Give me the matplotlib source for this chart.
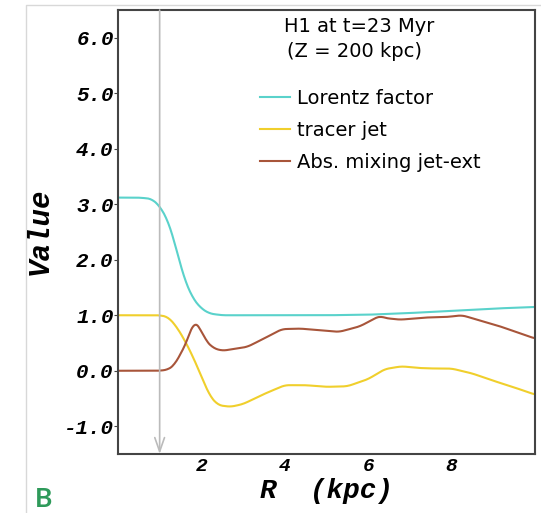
import numpy as np
import matplotlib.pyplot as plt
from matplotlib.lines import Line2D

# radial profiles at Z = 200 kpc
r_lorentz = [0, 0.5, 0.8, 1.0, 1.2, 1.32, 1.45, 1.6, 1.8, 2.0, 2.2, 2.5, 3, 4, 5, 6, 7, 8, 9, 10]
lorentz = [3.12, 3.12, 3.10, 2.97, 2.7, 2.41, 2.05, 1.64, 1.3, 1.12, 1.03, 1.0, 1.0, 1.0, 1.0, 1.01, 1.04, 1.08, 1.12, 1.15]

r_tracer = [0, 1.0, 1.2, 1.4, 1.6, 1.8, 2.0, 2.2, 2.4, 2.7, 3.0, 3.5, 4.0, 4.5, 5.0, 5.5, 6.0, 6.4,
            6.8, 7.2, 7.6, 8.0, 8.5, 9.0, 9.5, 10]
tracer = [1, 1, 0.97, 0.8, 0.55, 0.25, -0.1, -0.45, -0.62, -0.65, -0.6, -0.42, -0.26, -0.26, -0.29,
          -0.28, -0.15, 0.03, 0.08, 0.05, 0.04, 0.04, -0.05, -0.18, -0.3, -0.43]

r_mix = [0, 1.0, 1.2, 1.35, 1.5, 1.65, 1.82, 1.97, 2.1, 2.28, 2.5, 3.1, 3.5, 3.93, 4.37, 5.3, 5.8,
         6.28, 6.4, 6.76, 7.4, 7.9, 8.25, 9.16, 10]
mix = [0, 0, 0.02, 0.1, 0.3, 0.52, 0.9, 0.77, 0.55, 0.41, 0.36, 0.43, 0.58, 0.75, 0.76, 0.70, 0.80,
       0.99, 0.95, 0.92, 0.96, 0.97, 1.0, 0.8, 0.58]

xticks = [2, 4, 6, 8]
yticks = [-1, 0, 1, 2, 3, 4, 5, 6]
r_mark = 1.0


def smooth(x, y, n=400):
    xs = np.linspace(min(x), max(x), n)
    ys = np.interp(xs, x, y)
    k = np.ones(9) / 9
    ys = np.convolve(np.pad(ys, 4, mode='edge'), k, mode='valid')
    return xs, ys


mono = {'family': 'Liberation Mono', 'weight': 'bold', 'style': 'italic'}
sans = 'DejaVu Sans'

fig = plt.figure(figsize=(5.41, 5.13), dpi=100)
ax = fig.add_axes([0.218, 0.115, 0.771, 0.8655])

ax.plot(*smooth(r_lorentz, lorentz), color='#5ad2cb', lw=1.5, label='Lorentz factor')
ax.plot(*smooth(r_tracer, tracer), color='#f0cf2c', lw=1.5, label='tracer jet')
ax.plot(*smooth(r_mix, mix), color='#a8553a', lw=1.5, label='Abs. mixing jet-ext')

# grey marker arrow
ax.annotate('', xy=(r_mark, -1.5), xytext=(r_mark, 6.5),
            arrowprops=dict(arrowstyle='->,head_length=1.0,head_width=0.35', color='#bbbbbb', lw=1.2,
                            shrinkA=0, shrinkB=0))

ax.set_xlim(0, 10)
ax.set_ylim(-1.5, 6.5)
ax.set_xticks(xticks)
ax.set_xticklabels([str(t) for t in xticks], fontdict=mono, fontsize=14)
ax.set_yticks(yticks)
ax.set_yticklabels(['%.1f' % t for t in yticks], fontdict=mono, fontsize=15)
ax.tick_params(axis='x', length=0, pad=3)
ax.tick_params(axis='y', length=3, direction='out', pad=0, color='#444444')
for s in ax.spines.values():
    s.set_color('#444444')
    s.set_linewidth(1.5)

ax.set_xlabel('R  (kpc)', fontdict=mono, fontsize=20, labelpad=2)
fig.text(0.074, 0.55, 'Value', fontdict=mono, fontsize=21, rotation=90, ha='center', va='center')

ax.text(0.578, 0.963, 'H1 at t=23 Myr', transform=ax.transAxes, ha='center', va='center',
        fontsize=14, family=sans)
ax.text(0.568, 0.907, '(Z = 200 kpc)', transform=ax.transAxes, ha='center', va='center',
        fontsize=14, family=sans)
leg = ax.legend(loc='upper left', bbox_to_anchor=(0.34, 0.823), frameon=False, prop={'family': sans, 'size': 14},
                handlelength=1.55, handletextpad=0.36, labelspacing=0.68, borderaxespad=0,
                borderpad=0)

fig.text(0.08, 0.027, 'B', color='#2e9a5a', fontsize=19, fontweight='bold', family='Lato',
         ha='center', va='center')

# thin page frame
fig.add_artist(Line2D([0.048, 0.048, 1.0], [0.0, 0.99, 0.99], transform=fig.transFigure,
                      color='#d8d8d8', lw=1))

fig.savefig('out.png', dpi=100)
